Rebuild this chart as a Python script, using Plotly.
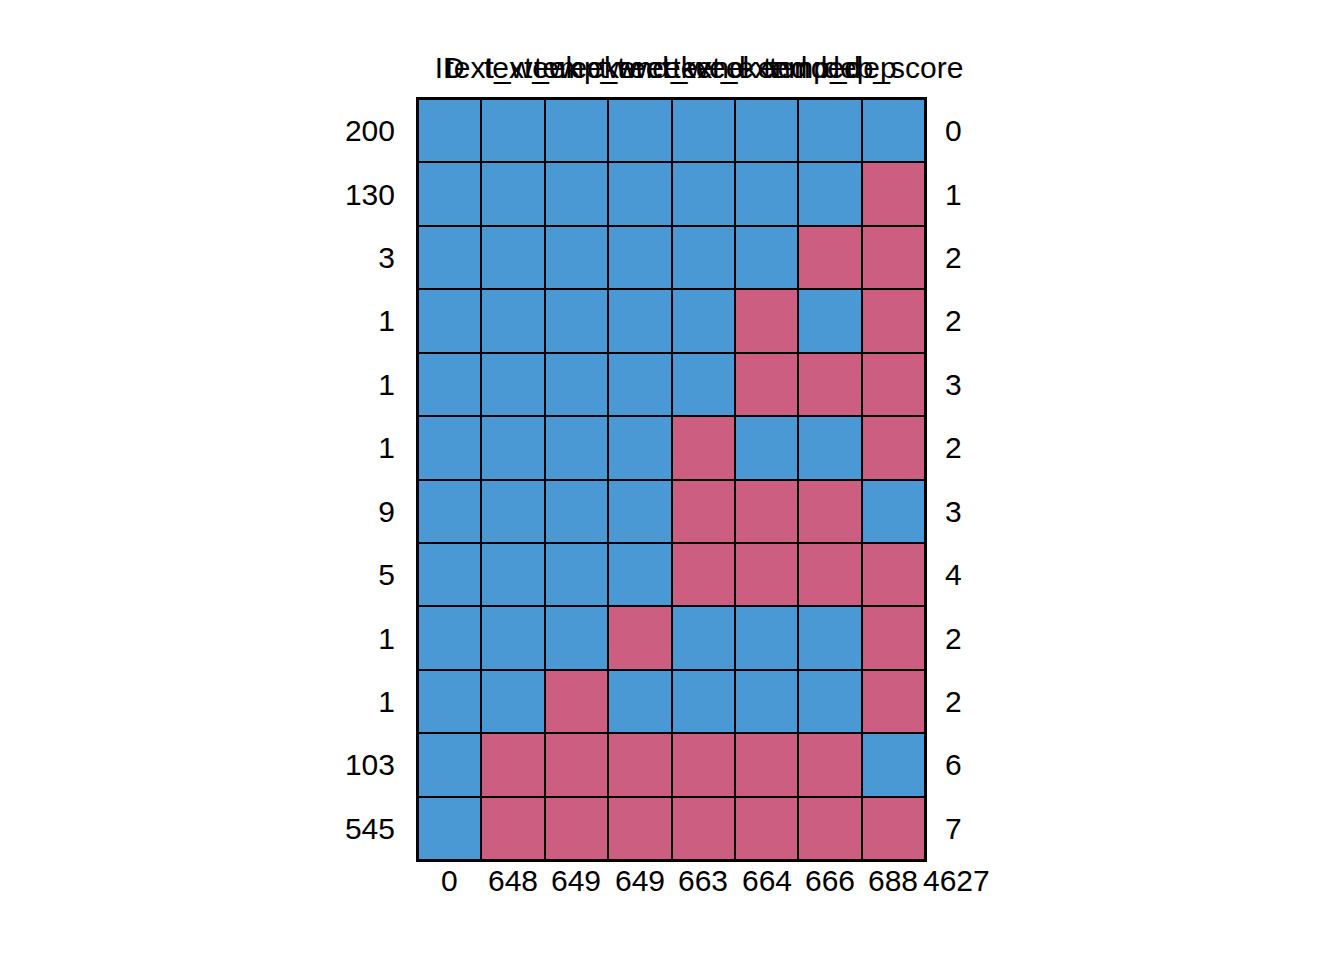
import plotly.graph_objects as go

columns = ["ID", "text_week", "text_weekend", "temp_tweekend", "tweet_weekend", "text_extended", "temp_dep", "dep_score"]
row_counts = ["200", "130", "3", "1", "1", "1", "9", "5", "1", "1", "103", "545"]
missing_per_row = ["0", "1", "2", "2", "3", "2", "3", "4", "2", "2", "6", "7"]
missing_per_col = ["0", "648", "649", "649", "663", "664", "666", "688"]
total_missing = "4627"
# 1 = observed, 0 = missing
pattern = [
    [1, 1, 1, 1, 1, 1, 1, 1],
    [1, 1, 1, 1, 1, 1, 1, 0],
    [1, 1, 1, 1, 1, 1, 0, 0],
    [1, 1, 1, 1, 1, 0, 1, 0],
    [1, 1, 1, 1, 1, 0, 0, 0],
    [1, 1, 1, 1, 0, 1, 1, 0],
    [1, 1, 1, 1, 0, 0, 0, 1],
    [1, 1, 1, 1, 0, 0, 0, 0],
    [1, 1, 1, 0, 1, 1, 1, 0],
    [1, 1, 0, 1, 1, 1, 1, 0],
    [1, 0, 0, 0, 0, 0, 0, 1],
    [1, 0, 0, 0, 0, 0, 0, 0],
]

BLUE = "#4A98D4"
PINK = "#CC5E82"
FONT = "Liberation Sans, Arial, sans-serif"
FS = 30

ncol = len(columns)
nrow = len(row_counts)
xs = list(range(ncol))
ys = list(range(nrow))

fig = go.Figure()
fig.add_trace(go.Heatmap(
    z=pattern, x=xs, y=ys,
    colorscale=[[0, PINK], [1, BLUE]], zmin=0, zmax=1,
    showscale=False, xgap=2, ygap=2, hoverinfo="skip",
))
# invisible trace to anchor secondary axes
fig.add_trace(go.Scatter(x=[0], y=[0], xaxis="x2", yaxis="y2",
                         mode="markers", marker=dict(opacity=0), hoverinfo="skip",
                         showlegend=False))

xd = [418 / 1344, 925 / 1344]
yd = [1 - 860 / 960, 1 - 99 / 960]
xr = [-0.5, ncol - 0.5]
yr = [nrow - 0.5, -0.5]

common = dict(showgrid=False, zeroline=False, ticks="", automargin=False,
              tickangle=0, fixedrange=True, tickmode="array")

fig.update_layout(
    width=1344, height=960,
    margin=dict(l=0, r=0, t=0, b=0),
    paper_bgcolor="white", plot_bgcolor="black",
    font=dict(family=FONT, size=FS, color="black"),
    showlegend=False,
    xaxis=dict(domain=xd, range=xr, tickvals=xs, ticktext=[""] * ncol,
               showline=True, linecolor="black", linewidth=2, mirror=True,
               **common),
    yaxis=dict(domain=yd, range=yr, tickvals=ys, ticktext=row_counts,
               showline=True, linecolor="black", linewidth=2, mirror=True,
               ticklabelstandoff=15, **common),
    xaxis2=dict(domain=xd, range=xr, overlaying="x", side="top", anchor="y2",
                tickvals=xs, ticktext=columns, showline=False,
                ticklabelstandoff=14, **common),
    yaxis2=dict(domain=yd, range=yr, overlaying="y", side="right", anchor="x2",
                tickvals=ys, ticktext=missing_per_row, showline=False,
                ticklabelstandoff=19, **common),
)

bottom_labels = missing_per_col + [total_missing]
for i, lab in enumerate(bottom_labels):
    fig.add_annotation(x=(i + 0.5) / ncol, y=0, xref="x domain", yref="y domain",
                       yshift=-20, text=lab, showarrow=False, yanchor="middle",
                       xanchor="center", font=dict(family=FONT, size=FS, color="black"))

fig.write_html("out.html")
